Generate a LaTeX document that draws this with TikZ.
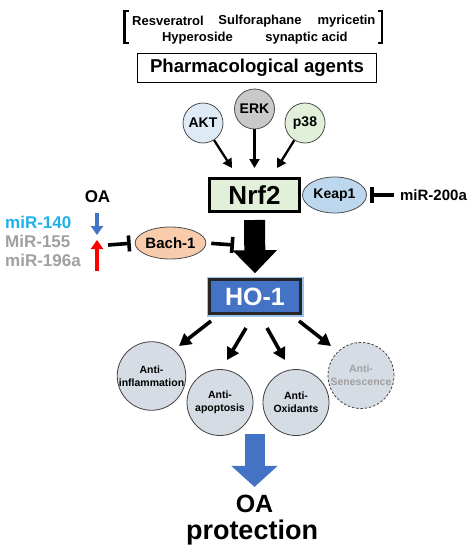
\documentclass[tikz,border=0pt]{standalone}
\usepackage{fontspec}
\setmainfont{Liberation Sans}
\usetikzlibrary{arrows.meta,shapes.geometric}
\definecolor{aktc}{HTML}{DEEBF7}
\definecolor{erkc}{HTML}{C9C9C9}
\definecolor{p38c}{HTML}{E2F0D9}
\definecolor{nrfc}{HTML}{E2F0D9}
\definecolor{keapc}{HTML}{BDD7EE}
\definecolor{bachc}{HTML}{F8CBAD}
\definecolor{hoc}{HTML}{4472C4}
\definecolor{glowc}{HTML}{9DC3E6}
\definecolor{effc}{HTML}{D6DCE4}
\definecolor{cyanc}{HTML}{1FB0E8}
\definecolor{grayc}{HTML}{A0A0A0}
\newcommand{\fs}[1]{\fontsize{#1}{#1}\selectfont\bfseries}
\tikzset{
  word/.style={inner sep=0pt, font=\fs{13}},
  kinase/.style={circle, draw=black!70, line width=0.8pt, minimum size=40pt, inner sep=0pt, font=\fs{14}},
  inarrow/.style={line width=2.3pt, -{Triangle[length=9pt,width=10pt]}},
  hoarrow/.style={line width=3.6pt, -{Triangle[length=12pt,width=13pt]}},
  effect/.style={circle, fill=effc, draw=black!75, line width=0.8pt, minimum size=66pt, inner sep=0pt, align=center, font=\fontsize{10.5}{13}\selectfont\bfseries},
  inhib/.style={line width=3.6pt, -{Bar[width=16pt,line width=3.6pt]}},
  oval/.style={ellipse, draw=black!70, line width=0.8pt, inner sep=0pt},
}
\begin{document}
\begin{tikzpicture}[x=1pt,y=-1pt]
\useasboundingbox (0,0) rectangle (474,557);
% drug list with brackets
\node[word] (res) at (168,21) {Resveratrol};
\node[word] (sul) at (260,21) {Sulforaphane};
\node[word] (myr) at (346.5,21) {myricetin};
\node[word] (hyp) at (197.5,38) {Hyperoside};
\node[word] (syn) at (306.5,38) {synaptic acid};
\draw[line width=2.6pt] (128.5,11) -- (124.5,11) -- (124.5,43) -- (128.5,43);
\draw[line width=2.6pt] (378,11) -- (382,11) -- (382,43) -- (378,43);
\node[draw=black, line width=1.4pt, minimum width=239pt, minimum height=29pt, inner sep=0pt, font=\fs{18.6}] (pharm) at (257,68) {Pharmacological agents};
% kinases
\node[kinase, fill=aktc] (akt) at (203,123) {AKT};
\node[kinase, fill=erkc] (erk) at (254.5,109) {ERK};
\node[kinase, fill=p38c] (p38) at (305,123) {p38};
% Nrf2
\node[draw=black, fill=nrfc, line width=3pt, minimum width=90pt, minimum height=33pt, inner sep=0pt, font=\fs{26}] (nrf) at (254.5,195) {Nrf2};
\draw[inarrow] (akt) -- (232,168);
\draw[inarrow] (erk) -- (254.5,168);
\draw[inarrow] (p38) -- (277,168);
% Keap1
\node[oval, fill=keapc, minimum width=64pt, minimum height=36pt, font=\fs{14}] (keap) at (334.5,195) {Keap1};
\node[inner sep=0pt, font=\fs{15}] (m200) at (433.5,195) {miR-200a};
\draw[inhib, shorten <=6pt, shorten >=3pt] (m200.west) -- (keap.east);
% HO-1
\node[draw=black!85, fill=hoc, text=white, line width=2.4pt, minimum width=91pt, minimum height=34pt, inner sep=0pt, font=\fs{25},
  preaction={draw=glowc, line width=6pt}] (ho) at (255,296.5) {HO-1};
\draw[line width=21pt, -{Triangle[length=23pt,width=43pt]}, shorten <=7pt, shorten >=5pt] (nrf.south) -- (ho.north);
% OA and miRNAs
\node[inner sep=0pt, font=\fs{17}] (oa) at (97.5,197) {OA};
\node[inner sep=0pt, anchor=west, text=cyanc, font=\fs{17}] (m140) at (5,222) {miR-140};
\node[inner sep=0pt, anchor=west, text=grayc, font=\fs{17}] (m155) at (5,241) {MiR-155};
\node[inner sep=0pt, anchor=west, text=grayc, font=\fs{17}] (m196) at (5,260) {miR-196a};
\coordinate (bdown) at (97,235);
\coordinate (rup) at (97,240);
\draw[line width=3.8pt, hoc, -{Triangle[length=9pt,width=12pt]}] (97,213) -- (bdown);
\draw[line width=3.8pt, red, -{Triangle[length=9pt,width=12pt]}] (97,271) -- (rup);
% Bach-1
\node[oval, fill=bachc, minimum width=65pt, minimum height=32pt, font=\fs{15}] (bach) at (170.5,243) {Bach-1};
\coordinate (tl) at (108,245);
\coordinate (tr) at (234,245);
\draw[inhib, shorten >=4pt] (tl) -- (bach.west);
\draw[inhib, shorten <=5pt] (bach.east) -- (tr);
% effects
\node[effect] (inf) at (151.5,376) {Anti-\\inflammation};
\node[effect] (apo) at (220,402.5) {Anti-\\apoptosis};
\node[effect] (oxi) at (296,402.5) {Anti-\\Oxidants};
\node[effect, dashed, text=grayc, dash pattern=on 2.5pt off 1.8pt] (sen) at (361,375.5) {Anti-\\Senescence};
\draw[hoarrow] (211,321) -- (179,346);
\draw[hoarrow] (246,328) -- (227,360);
\draw[hoarrow] (267,328) -- (285,360);
\draw[hoarrow] (299,321) -- (331,346);
% OA protection
\node[inner sep=0pt, font=\fs{25}] (oap) at (254.5,504) {OA};
\node[inner sep=0pt, font=\fs{27}] (prot) at (252,533) {protection};
\coordinate (bstart) at (254.5,434);
\draw[hoc, line width=20pt, -{Triangle[length=21pt,width=45pt]}, shorten >=8pt] (bstart) -- (oap.north);
\end{tikzpicture}
\end{document}
